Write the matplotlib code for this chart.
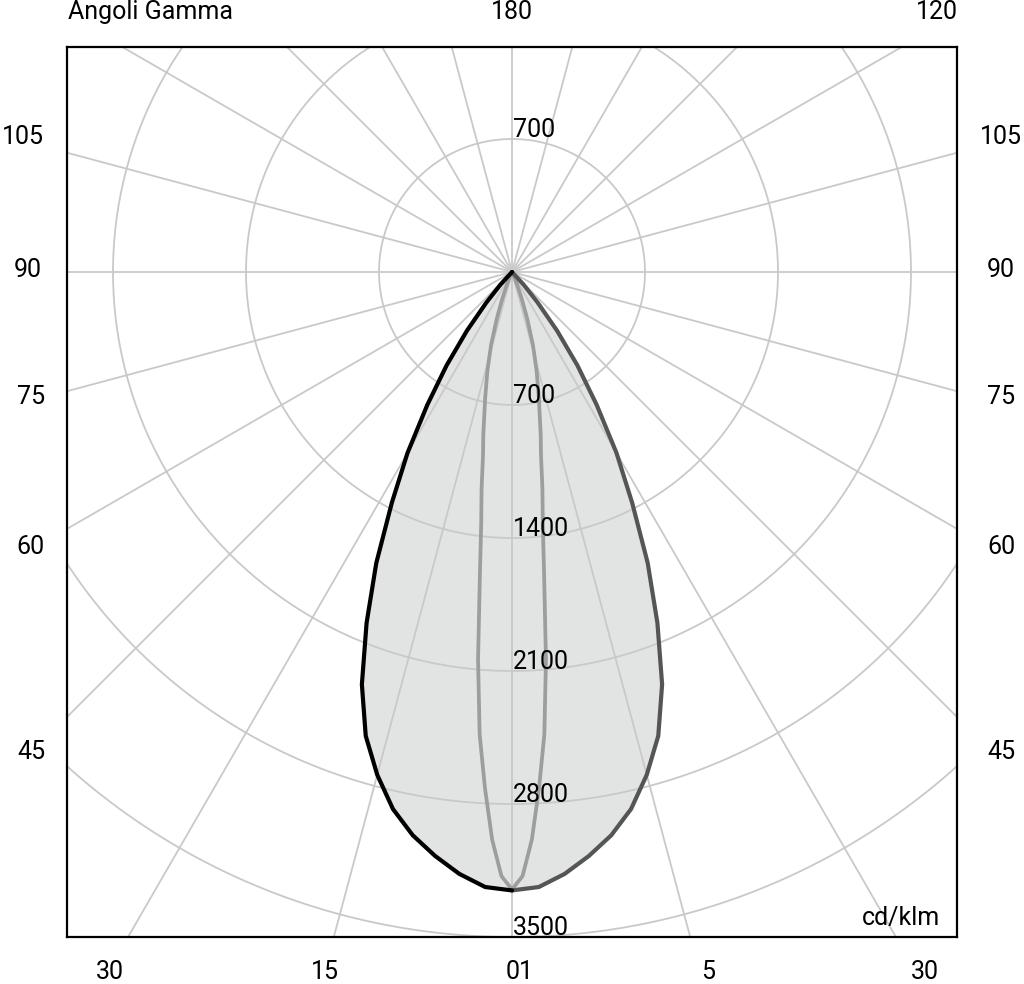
import numpy as np
import matplotlib
matplotlib.use("Agg")
import matplotlib.pyplot as plt

plt.rcParams['font.family'] = ['Roboto', 'DejaVu Sans']

# photometric data (cd/klm)
# plane C0 / C180 (wide beam)
gamma_c0 = [0, 2.5, 5, 7.5, 10, 12.5, 15, 17.5, 20, 22.5, 25, 27.5, 30,
            32.5, 35, 37.5, 40, 42.5, 45]
int_c0 = [3255, 3240, 3180, 3100, 3010, 2895, 2740, 2560, 2310, 2000, 1690,
          1370, 1100, 830, 600, 390, 210, 90, 0]

# plane C90 / C270 (narrow beam)
gamma_c90 = [0, 1, 2, 3, 4, 5, 6, 7, 8, 9, 10, 12, 14, 16, 18, 20, 22, 25, 28]
int_c90 = [3250, 3180, 2990, 2720, 2440, 2050, 1620, 1330, 1150, 975, 870,
           680, 535, 400, 260, 150, 70, 15, 0]

ring_values = [700, 1400, 2100, 2800, 3500]
spoke_step = 15

left_labels = ["105", "90", "75", "60", "45"]
bottom_labels = ["30", "15", "01", "5", "30"]


def main():
    fig = plt.figure(figsize=(10.24, 9.84), dpi=100)
    W, H = 1024, 984
    ax = fig.add_axes([67 / W, (H - 937) / H, 890 / W, 890 / H])
    ax.set_xlim(-2342, 2342)
    ax.set_ylim(-3500, -3500 + 4684)
    ax.set_xticks([])
    ax.set_yticks([])
    for s in ax.spines.values():
        s.set_color('black')
        s.set_linewidth(1.6)
        s.set_zorder(6)

    grid_col = '#c9c9c9'
    # spokes
    for k in range(0, 360, spoke_step):
        a = np.radians(k)
        ax.plot([0, 8000 * np.sin(a)], [0, -8000 * np.cos(a)],
                color=grid_col, lw=1.3, zorder=2)
    # rings
    t = np.linspace(0, 2 * np.pi, 400)
    for r in ring_values:
        ax.plot(r * np.cos(t), r * np.sin(t), color=grid_col, lw=1.3, zorder=2)

    # curves
    g0 = np.radians(gamma_c0)
    i0 = np.array(int_c0)
    g9 = np.radians(gamma_c90)
    i9 = np.array(int_c90)

    xl, yl = -i0 * np.sin(g0), -i0 * np.cos(g0)
    xr, yr = i0 * np.sin(g0), -i0 * np.cos(g0)
    ax.fill(np.concatenate([xl[::-1], xr]), np.concatenate([yl[::-1], yr]),
            color='#e2e3e3', lw=0, zorder=1)

    ax.plot(-i9 * np.sin(g9), -i9 * np.cos(g9), color='#9d9d9d', lw=2.7,
            zorder=3, solid_capstyle='round', solid_joinstyle='round')
    ax.plot(i9 * np.sin(g9), -i9 * np.cos(g9), color='#9d9d9d', lw=2.7,
            zorder=3, solid_capstyle='round', solid_joinstyle='round')
    ax.plot(xr, yr, color='#555555', lw=3.0, zorder=4, solid_capstyle='round',
            solid_joinstyle='round')
    ax.plot(xl, yl, color='black', lw=3.0, zorder=4, solid_capstyle='round',
            solid_joinstyle='round')

    # ring labels
    ax.text(5, 700 + 12, "700", fontsize=18, ha='left', va='baseline', zorder=5)
    for r in ring_values:
        ax.text(5, -r + 12, str(r), fontsize=18, ha='left', va='baseline',
                zorder=5)
    ax.text(2253, -3400, "cd/klm", fontsize=18, ha='right', va='center',
            zorder=5)

    def ft(x, y, s, ha='center'):
        fig.text(x / W, 1 - y / H, s, fontsize=18, ha=ha, va='center')

    ft(68, 12, "Angoli Gamma", ha='left')
    ft(512, 12, "180")
    ft(958, 12, "120", ha='right')

    left_y = [137, 270, 397, 547, 752]
    left_x = [23, 28, 31, 30, 31]
    for s, x, y in zip(left_labels, left_x, left_y):
        ft(x, y, s)
        ft(1001, y, s)

    bottom_x = [110, 325, 520, 708, 925]
    for s, x in zip(bottom_labels, bottom_x):
        ft(x, 972, s)

    fig.savefig("out.png", dpi=100, facecolor='white')


if __name__ == "__main__":
    main()
